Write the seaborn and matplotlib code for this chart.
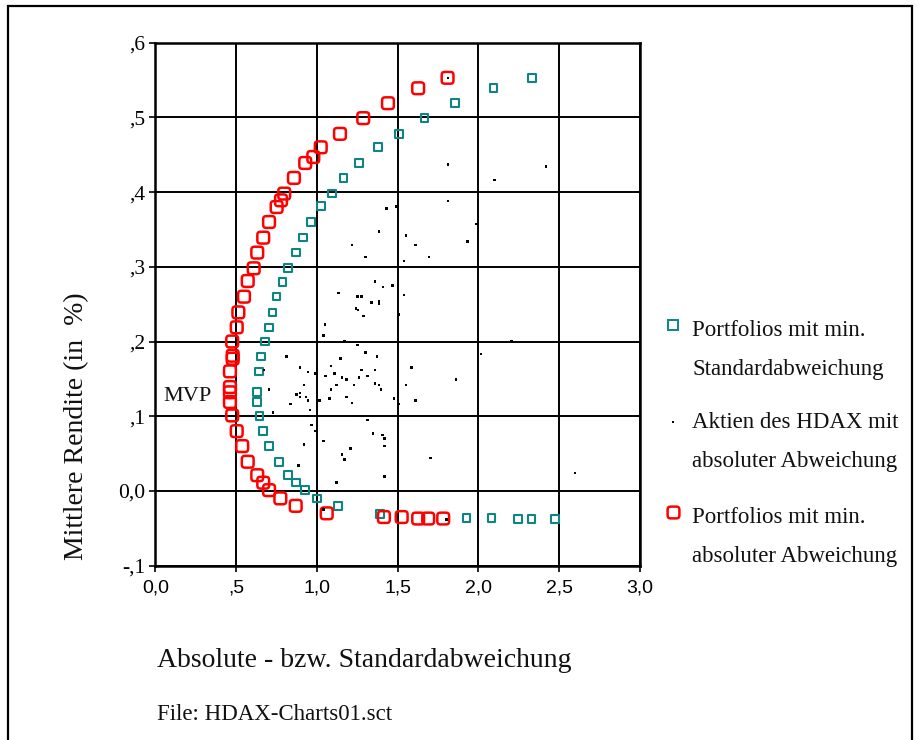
import numpy as np
import pandas as pd
import matplotlib
matplotlib.use("Agg")
import matplotlib.pyplot as plt
from matplotlib.path import Path
from matplotlib.lines import Line2D
from matplotlib.patches import Rectangle
import seaborn as sns

# ---------------- data ----------------
# Portfolios with minimum standard deviation (teal squares)
min_std_risk = [2.331, 2.094, 1.856, 1.665, 1.507, 1.380, 1.262, 1.166, 1.095, 1.024,
                0.963, 0.916, 0.869, 0.821, 0.788, 0.751, 0.726, 0.704, 0.679, 0.656,
                0.642, 0.631, 0.631, 0.644, 0.668, 0.704, 0.765, 0.821, 0.869, 0.928,
                0.999, 1.131, 1.390, 1.927, 2.082, 2.246, 2.329, 2.473]
min_std_return = [0.553, 0.539, 0.519, 0.499, 0.478, 0.460, 0.439, 0.419, 0.398, 0.381,
                  0.360, 0.339, 0.319, 0.298, 0.280, 0.260, 0.239, 0.219, 0.200, 0.180,
                  0.160, 0.132, 0.119, 0.100, 0.080, 0.060, 0.039, 0.021, 0.011, 0.001,
                  -0.010, -0.020, -0.031, -0.036, -0.036, -0.038, -0.038, -0.038]

# HDAX stocks with absolute deviation (black dots)
stocks_risk = [1.813, 1.813, 2.098, 2.418, 1.813, 1.432, 1.490, 1.989, 1.384, 1.551,
               1.611, 1.931, 1.217, 1.539, 1.694, 1.302, 1.361, 1.409, 1.467, 1.539,
               1.135, 1.252, 1.277, 1.337, 1.384, 1.384, 1.242, 1.254, 1.290, 1.504,
               1.050, 1.040, 1.170, 2.205, 1.252, 0.813, 1.302, 1.372, 1.145, 2.015,
               0.897, 1.087, 0.673, 0.945, 0.993, 1.052, 1.110, 1.277, 1.360, 1.312,
               1.157, 1.184, 1.262, 1.587, 1.861, 0.920, 1.123, 1.230, 1.361, 1.384,
               1.397, 1.551, 1.087, 0.705, 0.875, 0.897, 0.897, 0.933, 0.945, 0.838,
               1.077, 1.015, 1.182, 1.217, 1.479, 1.611, 1.504, 0.730, 0.957, 0.945,
               1.230, 1.312, 0.968, 0.993, 1.040, 1.349, 1.407, 1.420, 1.420, 1.207,
               0.920, 1.157, 1.170, 1.704, 0.885, 1.420, 2.597, 1.123, 1.123, 1.040,
               1.803]
stocks_return = [0.553, 0.437, 0.416, 0.434, 0.388, 0.378, 0.381, 0.357, 0.347, 0.342,
                 0.329, 0.334, 0.329, 0.308, 0.313, 0.313, 0.280, 0.273, 0.275, 0.262,
                 0.265, 0.260, 0.260, 0.252, 0.254, 0.251, 0.244, 0.242, 0.234, 0.236,
                 0.223, 0.208, 0.200, 0.200, 0.195, 0.180, 0.185, 0.180, 0.177, 0.183,
                 0.165, 0.167, 0.162, 0.159, 0.157, 0.154, 0.157, 0.162, 0.162, 0.154,
                 0.152, 0.149, 0.152, 0.165, 0.149, 0.142, 0.142, 0.142, 0.144, 0.142,
                 0.136, 0.142, 0.136, 0.136, 0.129, 0.131, 0.126, 0.126, 0.121, 0.116,
                 0.124, 0.121, 0.126, 0.118, 0.124, 0.121, 0.116, 0.105, 0.108, 0.100,
                 0.100, 0.095, 0.088, 0.080, 0.067, 0.077, 0.075, 0.070, 0.060, 0.057,
                 0.062, 0.049, 0.042, 0.044, 0.034, 0.019, 0.024, 0.011, 0.000, -0.025,
                 -0.038]

# Portfolios with minimum absolute deviation (red rounded markers)
min_abs_risk = [1.809, 1.627, 1.440, 1.287, 1.143, 1.024, 0.978, 0.928, 0.858, 0.798,
                0.778, 0.751, 0.704, 0.668, 0.631, 0.609, 0.572, 0.549, 0.514, 0.504,
                0.476, 0.479, 0.479, 0.462, 0.462, 0.462, 0.462, 0.476, 0.504, 0.538,
                0.572, 0.631, 0.668, 0.704, 0.774, 0.869, 1.061, 1.415, 1.525, 1.627,
                1.689, 1.782]
min_abs_return = [0.553, 0.539, 0.519, 0.499, 0.478, 0.460, 0.447, 0.439, 0.419, 0.398,
                  0.389, 0.380, 0.360, 0.339, 0.319, 0.298, 0.281, 0.260, 0.239, 0.219,
                  0.200, 0.181, 0.177, 0.160, 0.139, 0.132, 0.119, 0.101, 0.080, 0.060,
                  0.039, 0.021, 0.011, 0.001, -0.010, -0.020, -0.030, -0.035, -0.035, -0.037,
                  -0.037, -0.037]

x_ticks = [0.0, 0.5, 1.0, 1.5, 2.0, 2.5, 3.0]
x_tick_labels = ["0,0", ",5", "1,0", "1,5", "2,0", "2,5", "3,0"]
y_ticks = [-0.1, 0.0, 0.1, 0.2, 0.3, 0.4, 0.5, 0.6]
y_tick_labels = ["-,1", "0,0", ",1", ",2", ",3", ",4", ",5", ",6"]

legend_lines = [["Portfolios mit min.", "Standardabweichung"],
                ["Aktien des HDAX mit", "absoluter Abweichung"],
                ["Portfolios mit min.", "absoluter Abweichung"]]
x_label = "Absolute - bzw. Standardabweichung"
y_label = "Mittlere Rendite (in  %)"
file_note = "File: HDAX-Charts01.sct"
mvp_label = "MVP"
mvp_pos = (0.05, 0.121)

# ---------------- styling ----------------
sns.set_theme(style="white")
plt.rcParams['font.family'] = ['Liberation Serif', 'DejaVu Serif']

TEAL = "#0e8584"
RED = "#ff0000"

W, H = 919, 740
fig = plt.figure(figsize=(W / 100, H / 100), dpi=100)
fig.patch.set_facecolor("white")


def fx(px):
    return px / W


def fy(py):
    return 1 - py / H


ax = fig.add_axes([fx(155.3), fy(565.6), fx(640.0) - fx(155.3), fy(42.7) - fy(565.6)])

# rounded-square marker
t = np.linspace(0, 2 * np.pi, 97)
nexp = 5
c, s = np.cos(t), np.sin(t)
rx = np.sign(c) * np.abs(c) ** (2 / nexp)
ry = np.sign(s) * np.abs(s) ** (2 / nexp)
rounded = Path(np.column_stack([rx, ry]), closed=True)

std_df = pd.DataFrame({"risk": min_std_risk, "ret": min_std_return})
stock_df = pd.DataFrame({"risk": stocks_risk, "ret": stocks_return})
abs_df = pd.DataFrame({"risk": min_abs_risk, "ret": min_abs_return})

sns.scatterplot(data=std_df, x="risk", y="ret", ax=ax, marker="s", s=30,
                facecolor="none", edgecolor=TEAL, linewidth=1.5, zorder=3)
sns.scatterplot(data=abs_df, x="risk", y="ret", ax=ax, marker=rounded, s=72,
                facecolor="none", edgecolor=RED, linewidth=1.8, zorder=4)
sns.scatterplot(data=stock_df, x="risk", y="ret", ax=ax, marker="s", s=3.2,
                facecolor="black", edgecolor="none", linewidth=0, zorder=5)

ax.set_xlim(0, 3.0)
ax.set_ylim(-0.1, 0.6)
ax.set_xticks(x_ticks)
ax.set_xticklabels(x_tick_labels, family="Liberation Sans", fontsize=14)
ax.set_yticks(y_ticks)
ax.set_yticklabels(y_tick_labels, family="Liberation Serif", fontsize=15.5)
ax.tick_params(axis="x", bottom=True, direction="out", length=4, width=1.2,
               color="black", pad=6, labelcolor="black")
ax.tick_params(axis="y", left=True, direction="out", length=4, width=1.2,
               color="black", pad=3.5, labelcolor="black")
ax.grid(True, color="black", linewidth=1.4)
ax.set_axisbelow(True)
for sp in ax.spines.values():
    sp.set_visible(True)
    sp.set_color("black")
    sp.set_linewidth(1.8)
ax.set_xlabel("")
ax.set_ylabel("")

ax.text(mvp_pos[0], mvp_pos[1], mvp_label, fontsize=16, ha="left",
        va="baseline", color="#111111")

# axis titles and note
fig.text(fx(157), fy(667), x_label, fontsize=20, ha="left", va="baseline",
         color="#111111")
fig.text(fx(77), fy(426.5), y_label, fontsize=20, rotation=90, ha="center",
         va="center", color="#111111")
fig.text(fx(157), fy(720), file_note, fontsize=16.5, ha="left",
         va="baseline", color="#111111")

# legend (manual)
marker_x = 673
entries = [
    dict(marker="s", ms=6.5, mfc="none", mec=TEAL, mew=1.4, y=325),
    dict(marker="s", ms=1.8, mfc="black", mec="black", mew=0, y=421.7),
    dict(marker=rounded, ms=8.5, mfc="none", mec=RED, mew=1.8, y=512),
]
baselines = [(335.7, 375.0), (428.3, 467.3), (522.7, 561.7)]
for e, lines, bl in zip(entries, legend_lines, baselines):
    fig.add_artist(Line2D([fx(marker_x)], [fy(e["y"])], marker=e["marker"],
                          markersize=e["ms"], markerfacecolor=e["mfc"],
                          markeredgecolor=e["mec"], markeredgewidth=e["mew"],
                          linestyle="none", transform=fig.transFigure))
    for line, b in zip(lines, bl):
        fig.text(fx(692), fy(b), line, fontsize=16.5, ha="left", va="baseline",
                 color="#111111")

# outer frame
fig.add_artist(Rectangle((fx(8), -0.05), fx(912) - fx(8), fy(6) + 0.05,
                         fill=False, edgecolor="black", linewidth=1.6,
                         transform=fig.transFigure))

fig.savefig("out.png", dpi=100)
